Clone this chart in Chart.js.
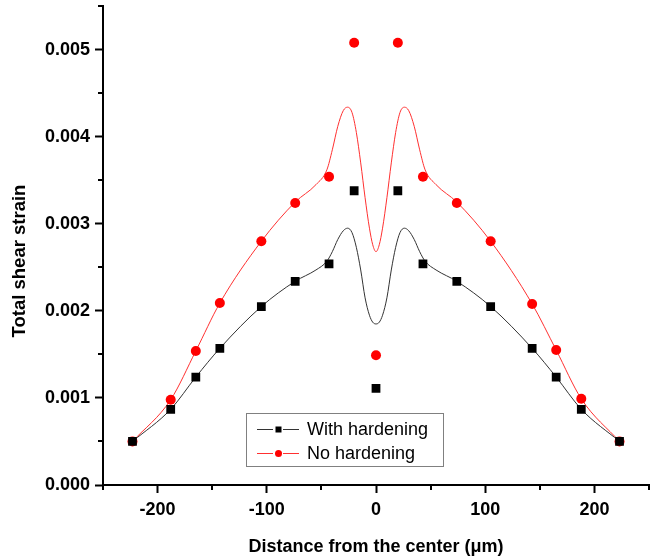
<!DOCTYPE html>
<html><head><meta charset="utf-8">
<script src="https://cdn.jsdelivr.net/npm/chart.js@4"></script>
<style>html,body{margin:0;padding:0;background:#fff}#wrap{width:657px;height:558px}</style>
</head><body><div id="wrap"><canvas id="c" width="657" height="558"></canvas></div>
<script>
// ---- data ----
const seriesNames = ['With hardening', 'No hardening'];
const positions = [-223, -188, -165, -143, -105, -74, -43, -20, 0, 20, 43, 74, 105, 143, 165, 188, 223];
const withHardening = [0.0005, 0.00087, 0.00124, 0.00157, 0.00205, 0.00234, 0.00254, 0.00338, 0.00111, 0.00338, 0.00254, 0.00234, 0.00205, 0.00157, 0.00124, 0.00087, 0.0005];
const noHardening = [0.0005, 0.00098, 0.00154, 0.00209, 0.0028, 0.00324, 0.00354, 0.00508, 0.00149, 0.00508, 0.00354, 0.00324, 0.0028, 0.00208, 0.00155, 0.00099, 0.0005];
// fitted curves
const curvePositions = [-223, -188, -165, -143, -105, -74, -55, -45, -40, -35, -30, -26, -22, -18, -14, -10, -6, -3, 0, 3, 6, 10, 14, 18, 22, 26, 30, 35, 40, 45, 55, 74, 105, 143, 165, 188, 223];
const curveWithHardening = [0.0005, 0.00087, 0.00124, 0.00157, 0.00205, 0.00234, 0.00247, 0.00257, 0.00268, 0.00282, 0.00292, 0.00295, 0.0029, 0.00273, 0.00247, 0.00215, 0.00195, 0.00187, 0.00185, 0.00187, 0.00195, 0.00215, 0.00247, 0.00273, 0.0029, 0.00295, 0.00292, 0.00282, 0.00268, 0.00257, 0.00247, 0.00234, 0.00205, 0.00157, 0.00124, 0.00087, 0.0005];
const curveNoHardening = [0.0005, 0.00098, 0.00154, 0.00209, 0.0028, 0.00325, 0.00345, 0.00362, 0.00385, 0.00412, 0.0043, 0.00434, 0.00428, 0.00405, 0.0037, 0.0033, 0.00295, 0.00276, 0.00268, 0.00276, 0.00295, 0.0033, 0.0037, 0.00405, 0.00428, 0.00434, 0.0043, 0.00412, 0.00385, 0.00362, 0.00345, 0.00325, 0.0028, 0.00208, 0.00155, 0.00099, 0.0005];
const xMajorTicks = [-200, -100, 0, 100, 200];
const yMajorTicks = [0.000, 0.001, 0.002, 0.003, 0.004, 0.005];
const xTitle = 'Distance from the center (\u03bcm)';
const yTitle = 'Total shear strain';

const toXY = (xs, ys) => xs.map((x, i) => ({x: x, y: ys[i]}));
const FONT = 'Liberation Sans, Arial, sans-serif';
const isMajorX = v => xMajorTicks.some(t => Math.abs(t - v) < 1e-6);
const isMajorY = v => yMajorTicks.some(t => Math.abs(t - v) < 1e-9);

const minorTicks = {
  id: 'minorTicks',
  afterDraw(chart) {
    const ctx = chart.ctx, xs = chart.scales.x, ys = chart.scales.y;
    ctx.save();
    ctx.strokeStyle = '#000'; ctx.lineWidth = 2;
    xs.ticks.forEach(t => {
      if (isMajorX(t.value)) return;
      const px = Math.round(xs.getPixelForValue(t.value));
      ctx.beginPath(); ctx.moveTo(px, xs.top); ctx.lineTo(px, xs.top + 5); ctx.stroke();
    });
    ys.ticks.forEach(t => {
      if (isMajorY(t.value)) return;
      const py = Math.round(ys.getPixelForValue(t.value));
      ctx.beginPath(); ctx.moveTo(ys.right, py); ctx.lineTo(ys.right - 5, py); ctx.stroke();
    });
    ctx.restore();
  }
};

const insetLegend = {
  id: 'insetLegend',
  afterDraw(chart) {
    const ctx = chart.ctx;
    const entries = [
      {text: seriesNames[0], line: '#333', fill: '#000', marker: 'rect'},
      {text: seriesNames[1], line: '#ff3030', fill: '#ff0000', marker: 'circle'}
    ];
    ctx.save();
    ctx.strokeStyle = '#808080'; ctx.lineWidth = 1;
    ctx.strokeRect(246.5, 413.5, 197, 53);
    entries.forEach((e, i) => {
      const y = 429.5 + i * 24;
      ctx.strokeStyle = e.line; ctx.lineWidth = 1;
      ctx.beginPath(); ctx.moveTo(257, y); ctx.lineTo(273, y); ctx.moveTo(283, y); ctx.lineTo(299, y); ctx.stroke();
      ctx.fillStyle = e.fill;
      if (e.marker === 'rect') { ctx.fillRect(275.5, y - 3, 6, 6); }
      else { ctx.beginPath(); ctx.arc(278.5, y, 3.5, 0, Math.PI * 2); ctx.fill(); }
      ctx.fillStyle = '#000';
      ctx.font = '18px ' + FONT;
      ctx.textBaseline = 'middle';
      ctx.textAlign = 'left';
      ctx.fillText(e.text, 307, y + 1);
    });
    ctx.restore();
  }
};

new Chart(document.getElementById('c'), {
  type: 'line',
  data: {
    datasets: [
      {label: seriesNames[0] + ' (fit)', data: toXY(curvePositions, curveWithHardening), borderColor: '#333', borderWidth: 1, pointRadius: 0, cubicInterpolationMode: 'monotone', fill: false, order: 2},
      {label: seriesNames[1] + ' (fit)', data: toXY(curvePositions, curveNoHardening), borderColor: '#ff3030', borderWidth: 1, pointRadius: 0, cubicInterpolationMode: 'monotone', fill: false, order: 2},
      {label: seriesNames[0], data: toXY(positions, withHardening), showLine: false, pointStyle: 'rect', pointRadius: 6.2, backgroundColor: '#000', borderWidth: 0, order: 1},
      {label: seriesNames[1], data: toXY(positions, noHardening), showLine: false, pointStyle: 'circle', pointRadius: 5, backgroundColor: '#ff0000', borderWidth: 0, order: 1}
    ]
  },
  options: {
    responsive: false, animation: false, devicePixelRatio: 1,
    layout: {padding: {left: 0, top: 6, right: 8, bottom: 0}},
    plugins: {legend: {display: false}, tooltip: {enabled: false}},
    scales: {
      x: {
        type: 'linear', min: -250, max: 250,
        afterFit(s) { s.height = 73; s.paddingLeft = 0; s.paddingRight = 0; },
        border: {color: '#000', width: 2},
        grid: {drawOnChartArea: false, drawTicks: true, tickLength: 8, tickWidth: 2,
               tickColor: c => isMajorX(c.tick.value) ? '#000' : 'rgba(0,0,0,0)'},
        ticks: {stepSize: 50, autoSkip: false, maxRotation: 0, padding: 6, color: '#000',
                font: {family: FONT, size: 18, weight: 'bold'},
                callback: v => isMajorX(v) ? String(Math.round(v)) : ''},
        title: {display: true, text: xTitle, color: '#000', padding: {top: 0, bottom: 0},
                font: {family: FONT, size: 18, weight: 'bold'}}
      },
      y: {
        type: 'linear', min: 0, max: 0.0055,
        afterFit(s) { s.width = 103; s.paddingTop = 0; s.paddingBottom = 0; },
        border: {color: '#000', width: 2},
        grid: {drawOnChartArea: false, drawTicks: true, tickLength: 8, tickWidth: 2,
               tickColor: c => isMajorY(c.tick.value) ? '#000' : 'rgba(0,0,0,0)'},
        ticks: {stepSize: 0.0005, autoSkip: false, padding: 5, color: '#000',
                font: {family: FONT, size: 18, weight: 'bold'},
                callback: v => isMajorY(v) ? v.toFixed(3) : ''},
        title: {display: true, text: yTitle + '      ', color: '#000', padding: {top: 9, bottom: 0},
                font: {family: FONT, size: 18.5, weight: 'bold'}}
      }
    }
  },
  plugins: [minorTicks, insetLegend]
});
</script>
</body></html>
